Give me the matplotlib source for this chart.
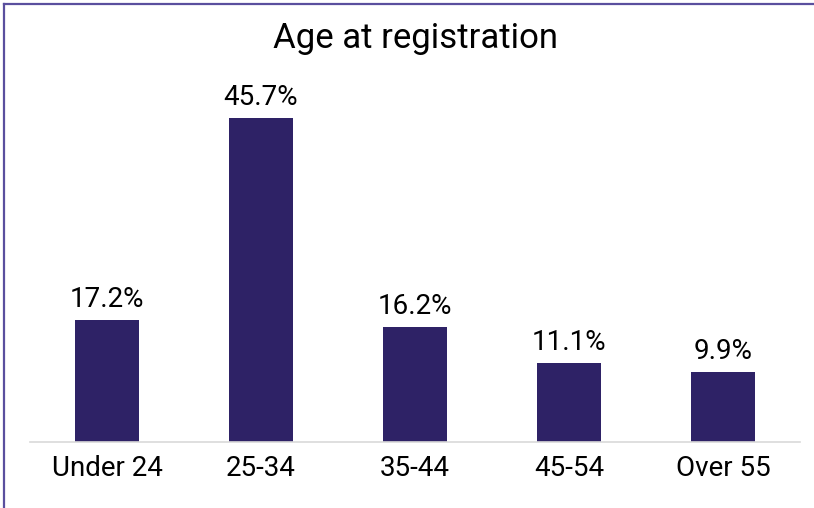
import matplotlib.pyplot as plt
from matplotlib.lines import Line2D

plt.rcParams['font.family'] = ['Roboto', 'DejaVu Sans']

categories = ['Under 24', '25-34', '35-44', '45-54', 'Over 55']
values = [17.2, 45.7, 16.2, 11.1, 9.9]
bar_color = '#2e2266'

fig = plt.figure(figsize=(8.14, 5.08), dpi=100)
ax = fig.add_axes([0.0369, 0.1299, 0.946, 0.752])

x = range(len(categories))
bars = ax.bar(x, values, width=0.42, color=bar_color)
for b, v in zip(bars, values):
    ax.annotate(f'{v}%', (b.get_x() + b.get_width() / 2, v), xytext=(0, 5),
                textcoords='offset points', ha='center', va='bottom', fontsize=20)

ax.set_xlim(-0.5, 4.5)
ax.set_ylim(0, 53.9)
ax.set_xticks(list(x))
ax.set_xticklabels(categories, fontsize=20)
ax.tick_params(axis='x', length=0, pad=9)
ax.set_yticks([])
for s in ['top', 'right', 'left']:
    ax.spines[s].set_visible(False)
ax.spines['bottom'].set_color('#d9d9d9')
ax.spines['bottom'].set_linewidth(1.2)

fig.text(0.51, 0.925, 'Age at registration', ha='center', va='center', fontsize=25)

# frame lines on top and left edge
fig.add_artist(Line2D([0.005, 1], [0.992, 0.992], color='#5a4f9e', lw=1.6, transform=fig.transFigure))
fig.add_artist(Line2D([0.005, 0.005], [0, 0.992], color='#5a4f9e', lw=1.6, transform=fig.transFigure))

fig.savefig('out.png', dpi=100)
